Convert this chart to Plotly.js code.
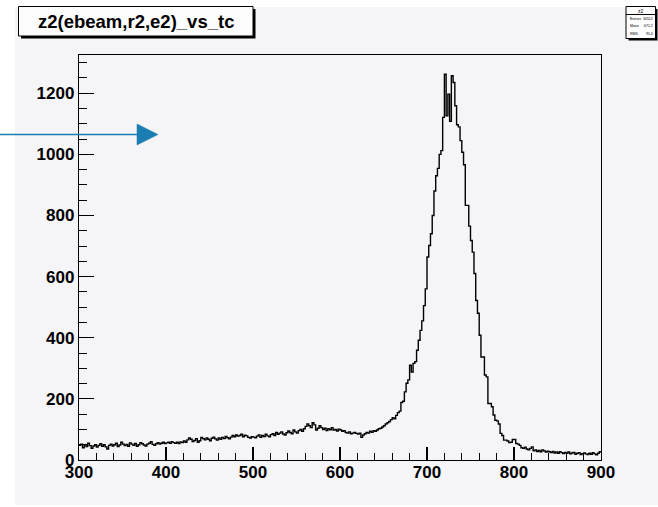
<!DOCTYPE html>
<html>
<head>
<meta charset="utf-8">
<script src="https://cdn.plot.ly/plotly-3.0.1.min.js"></script>
<style>
  html, body { margin: 0; padding: 0; background: #ffffff; }
  #chart { width: 658px; height: 507px; }
</style>
</head>
<body>
<div id="chart"></div>
<script>
// ---- data ----
const histTitle = "z2(ebeam,r2,e2)_vs_tc";
const binStart = 300;
const binWidth = 2;
const counts = [
  48, 52, 40, 50, 44, 55, 47, 38, 46, 50,
  42, 48, 53, 45, 50, 43, 36, 48, 52, 46,
  50, 55, 44, 49, 58, 52, 47, 51, 45, 56,
  52, 48, 54, 45, 50, 57, 53, 49, 46, 52,
  55, 60, 51, 48, 53, 57, 52, 55, 58, 54,
  56, 58, 55, 60, 57, 55, 58, 54, 59, 57,
  62, 58, 66, 72, 68, 60, 64, 70, 58, 63,
  74, 70, 66, 72, 68, 63, 71, 75, 69, 65,
  72, 68, 74, 70, 77, 73, 69, 75, 80, 76,
  82, 78, 80, 84, 76, 81, 79, 74, 72, 76,
  75, 73, 78, 82, 74, 80, 77, 84, 79, 76,
  83, 86, 80, 90, 84, 88, 92, 85, 82, 89,
  95, 90, 86, 98, 92, 88, 96, 100, 94, 102,
  110, 118, 112, 106, 122, 115, 98, 104, 112, 106,
  100, 104, 96, 102, 99, 106, 98, 100, 95, 101,
  98, 94, 96, 90, 88, 92, 86, 88, 90, 87,
  85, 88, 74, 82, 86, 90, 88, 94, 91, 96,
  94, 98, 102, 104, 108, 112, 118, 122, 126, 132,
  138, 135, 146, 155, 160, 188, 192, 223, 251, 262,
  310, 288, 316, 322, 359, 392, 424, 455, 505, 560,
  664, 702, 740, 800, 880, 930, 954, 1000, 1012, 1121,
  1262, 1126, 1197, 1108, 1257, 1235, 1159, 1097, 1090, 1045,
  1007, 966, 833, 833, 765, 718, 680, 610, 522, 480,
  408, 337, 337, 278, 272, 185, 185, 174, 147, 130,
  128, 118, 87, 80, 65, 65, 62, 57, 58, 67,
  67, 54, 52, 48, 40, 38, 42, 36, 33, 38,
  43, 30, 33, 28, 31, 27, 33, 30, 26, 29,
  27, 24, 28, 23, 26, 22, 27, 24, 21, 25,
  22, 26, 20, 23, 25, 19, 22, 24, 18, 21,
  23, 20, 18, 22, 19, 24, 20, 17, 22, 27
];
const xRange = [300, 900];
const yRange = [0, 1325];
const statsLabels = ["Entries", "Mean", "RMS"];
const statsValues = ["30512", "671.2", "95.4"];

// ---- build step outline from bin edges ----
const edges = counts.map((_, i) => binStart + i * binWidth);
edges.push(binStart + counts.length * binWidth);
const stepY = counts.concat([counts[counts.length - 1]]);

// ---- layout helpers (pixel -> paper) ----
const W = 658, H = 507;
const L = 79, R = 57, T = 55, B = 47;
const PW = W - L - R, PH = H - T - B;
const px = x => (x - L) / PW;
const py = y => (H - B - y) / PH;

const font = { family: "Liberation Sans, Arial, Helvetica, sans-serif", color: "#000" };
const bg = "#f5f4f7";
const arrowColor = "#1b7db2";

const shapes = [
  // grey canvas area
  { type: "rect", xref: "paper", yref: "paper", layer: "below", x0: px(15), x1: px(660), y0: py(505), y1: py(7),
    fillcolor: bg, line: { width: 0 } },
  // title box shadow + box
  { type: "rect", xref: "paper", yref: "paper", x0: px(21), x1: px(255.5), y0: py(38.5), y1: py(9),
    fillcolor: "#000", line: { width: 0 } },
  { type: "rect", xref: "paper", yref: "paper", x0: px(18.5), x1: px(253), y0: py(36), y1: py(6.5),
    fillcolor: "#fdfdfd", line: { color: "#000", width: 1 } },
  // stats box shadow + box
  { type: "rect", xref: "paper", yref: "paper", x0: px(628.5), x1: px(657.5), y0: py(40.5), y1: py(9),
    fillcolor: "#000", line: { width: 0 } },
  { type: "rect", xref: "paper", yref: "paper", x0: px(626), x1: px(655.5), y0: py(38.5), y1: py(6.5),
    fillcolor: "#fdfdfd", line: { color: "#000", width: 1 } },
  { type: "line", xref: "paper", yref: "paper", x0: px(626), x1: px(655.5), y0: py(14.5), y1: py(14.5),
    line: { color: "#000", width: 1 } },
  // blue arrow
  { type: "line", xref: "paper", yref: "paper", x0: px(-2), x1: px(140), y0: py(134.5), y1: py(134.5),
    line: { color: arrowColor, width: 1.6 } },
  { type: "path", xref: "paper", yref: "paper",
    path: "M " + px(137) + "," + py(124) + " L " + px(158) + "," + py(134.5) + " L " + px(137) + "," + py(145) + " Z",
    fillcolor: arrowColor, line: { color: arrowColor, width: 0.5 } }
];

const annotations = [
  { xref: "paper", yref: "paper", x: px(135.5), y: py(21.5), xanchor: "center", yanchor: "middle",
    text: histTitle, showarrow: false,
    font: Object.assign({}, font, { size: 18.5, weight: "bold" }) },
  { xref: "paper", yref: "paper", x: px(641), y: py(10.5), xanchor: "center", yanchor: "middle",
    text: "z2", showarrow: false, font: Object.assign({}, font, { size: 5 }) }
];
statsLabels.forEach((lab, i) => {
  annotations.push({ xref: "paper", yref: "paper", x: px(627.5), y: py(19 + i * 7.5), xanchor: "left", yanchor: "middle",
    text: lab, showarrow: false, font: Object.assign({}, font, { size: 3.5 }) });
  annotations.push({ xref: "paper", yref: "paper", x: px(654.5), y: py(19 + i * 7.5), xanchor: "right", yanchor: "middle",
    text: statsValues[i], showarrow: false, font: Object.assign({}, font, { size: 3.5 }) });
});

const trace = {
  type: "scatter", mode: "lines",
  x: edges, y: stepY,
  line: { shape: "hv", color: "#000", width: 1.4 },
  hoverinfo: "skip"
};

const axisCommon = {
  showline: true, mirror: true, linecolor: "#000", linewidth: 1.2,
  showgrid: false, zeroline: false,
  ticks: "inside", tickcolor: "#000", tickwidth: 1.2,
  tickfont: Object.assign({}, font, { size: 17, weight: "bold" })
};

const layout = {
  width: W, height: H,
  margin: { l: L, r: R, t: T, b: B, pad: 0 },
  paper_bgcolor: "#ffffff", plot_bgcolor: bg,
  showlegend: false,
  xaxis: Object.assign({}, axisCommon, {
    range: xRange, tick0: 0, dtick: 100, ticklen: 13, ticklabelstandoff: -4,
    minor: { dtick: 20, ticks: "inside", ticklen: 7, tickcolor: "#000", tickwidth: 1, showgrid: false }
  }),
  yaxis: Object.assign({}, axisCommon, {
    range: yRange, tick0: 0, dtick: 200, ticklen: 15,
    minor: { dtick: 50, ticks: "inside", ticklen: 8, tickcolor: "#000", tickwidth: 1, showgrid: false }
  }),
  shapes: shapes,
  annotations: annotations
};

Plotly.newPlot("chart", [trace], layout, { displayModeBar: false, staticPlot: true });
</script>
</body>
</html>
